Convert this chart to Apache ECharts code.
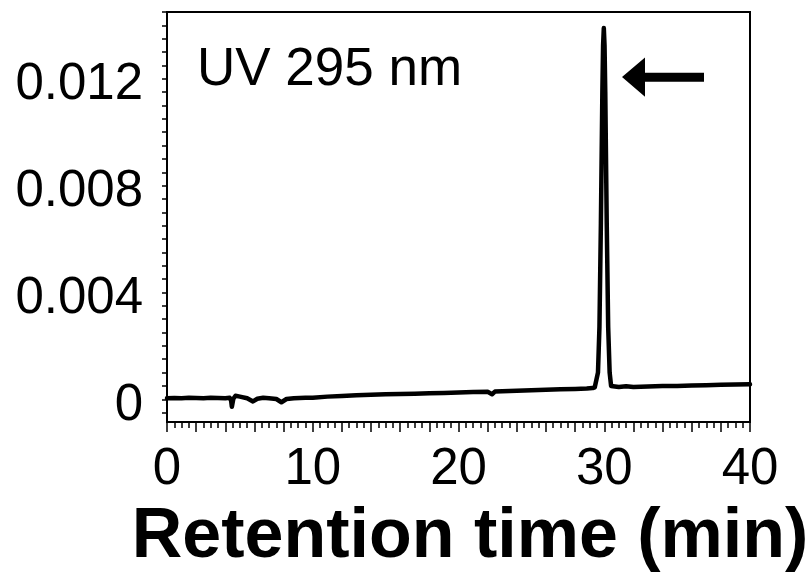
<!DOCTYPE html>
<html>
<head>
<meta charset="utf-8">
<script src="https://cdn.jsdelivr.net/npm/echarts@6/dist/echarts.min.js"></script>
<style>
html,body{margin:0;padding:0;background:#fff;}
#chart{width:809px;height:579px;}
</style>
</head>
<body>
<div id="chart"></div>
<script>
// Retention time (min)
var times = [0,0.5,1,1.5,2,2.5,3,3.5,4,4.3,4.4,4.45,4.5,4.55,4.7,5,5.5,5.9,6.2,6.6,7,7.5,7.85,8.2,8.7,9.5,10,11,12,13,14,15,16,17,18,19,20,21,22,22.3,22.5,23,24,25,26,27,28,28.8,29.2,29.35,29.47,29.57,29.67,29.77,29.87,29.92,29.97,30.02,30.07,30.17,30.27,30.37,30.47,30.6,31,31.5,32,33,34,35,36,37,38,39,40];
// UV absorbance at 295 nm
var absorbance = [0.00004,0.00005,0.00004,0.00006,0.00005,0.00004,0.00006,0.00005,0.00004,0.00006,-0.00005,-0.00028,-0.00024,0.00002,0.00013,0.0001,0.00004,-0.00008,0.00002,0.00006,0.00004,0.00001,-0.00011,0.00001,0.00004,0.00006,0.00006,0.0001,0.00012,0.00015,0.00017,0.00019,0.0002,0.00021,0.00023,0.00024,0.00025,0.00027,0.00028,0.00019,0.00029,0.0003,0.00032,0.00034,0.00036,0.00038,0.00039,0.0004,0.00042,0.00045,0.0005,0.001,0.0027,0.0066,0.0115,0.01325,0.0139,0.01325,0.0115,0.0066,0.0027,0.001,0.0005,0.00045,0.00046,0.00049,0.00046,0.00048,0.0005,0.0005,0.00052,0.00053,0.00054,0.00055,0.00056];
var xLabelValues = [0,10,20,30,40];
var yLabelValues = [0,0.004,0.008,0.012];
var yTickValues = [-0.0005,0,0.0005,0.001,0.0015,0.002,0.0025,0.003,0.0035,0.004,0.0045,0.005,0.0055,0.006,0.0065,0.007,0.0075,0.008,0.0085,0.009,0.0095,0.01,0.0105,0.011,0.0115,0.012,0.0125,0.013,0.0135,0.014,0.0145];
var annotationText = 'UV 295 nm';
var xTitle = 'Retention time (min)';

var FONT = '"Liberation Sans", Arial, Helvetica, sans-serif';
var chart = echarts.init(document.getElementById('chart'), null, {renderer:'canvas'});
var seriesData = times.map(function(t,i){return [t, absorbance[i]];});

chart.setOption({
  animation:false,
  backgroundColor:'#fff',
  grid:{left:167,right:59,top:12,bottom:157,show:true,borderColor:'#000',borderWidth:2,containLabel:false,outerBoundsMode:'none'},
  xAxis:{
    type:'value',min:0,max:40,interval:2,
    axisLine:{show:true,onZero:false,lineStyle:{color:'#000',width:2}},
    axisTick:{show:true,inside:false,length:10,lineStyle:{color:'#000',width:1.5}},
    minorTick:{show:true,splitNumber:4,length:6,lineStyle:{color:'#000',width:1.5}},
    splitLine:{show:false},minorSplitLine:{show:false},
    axisLabel:{customValues:xLabelValues,color:'#000',fontSize:51,fontFamily:FONT,margin:22},
    name:xTitle,nameLocation:'middle',nameGap:81,
    nameTextStyle:{color:'#000',fontSize:70,fontWeight:'bold',fontFamily:FONT,padding:[0,0,0,23]}
  },
  yAxis:{
    type:'value',min:-0.00085,max:0.0145,
    axisLine:{show:true,onZero:false,lineStyle:{color:'#000',width:2}},
    axisTick:{show:true,inside:false,length:5,customValues:yTickValues,lineStyle:{color:'#000',width:1.5}},
    splitLine:{show:false},
    axisLabel:{customValues:yLabelValues,color:'#000',fontSize:51,fontFamily:FONT,margin:24,
      formatter:function(v){return '{v|' + String(v) + '}';},
      rich:{v:{color:'#000',fontSize:51,fontFamily:FONT,padding:[13,0,0,0]}}}
  },
  graphic:[
    {type:'text',left:197,top:44,style:{text:annotationText,fill:'#000',font:'53px '+FONT}},
    {type:'polygon',shape:{points:[[622,77],[645,57.5],[645,72.7],[704,72.7],[704,81.7],[645,81.7],[645,96.7]]},style:{fill:'#000'}}
  ],
  series:[{
    type:'line',data:seriesData,showSymbol:false,symbol:'none',
    lineStyle:{color:'#000',width:4.5,join:'round',cap:'round'},
    clip:true
  }]
});
</script>
</body>
</html>
